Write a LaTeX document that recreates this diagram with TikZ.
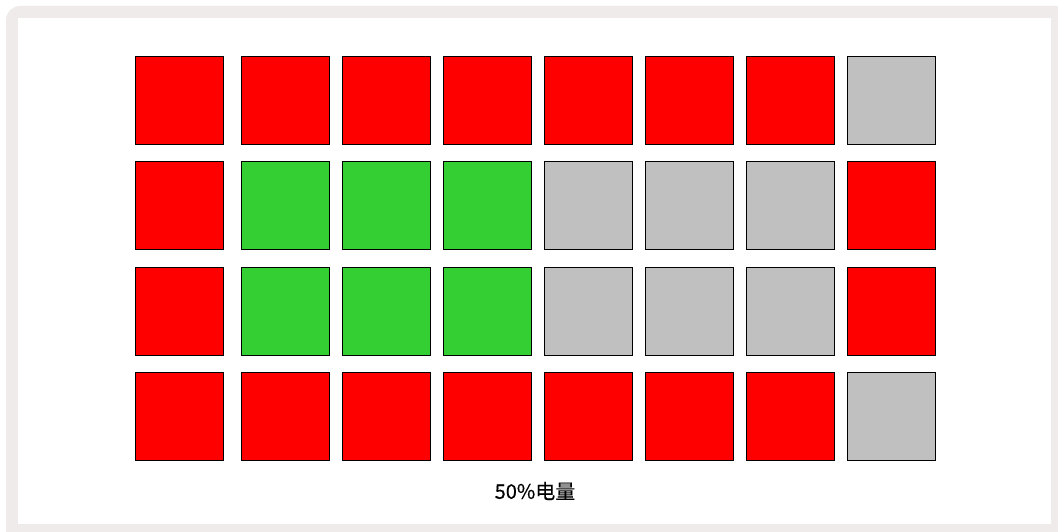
\documentclass[tikz,border=0pt]{standalone}
\usepackage{fontspec}
\newfontfamily\cjk[FakeBold=0.3]{Noto Sans CJK SC}
\definecolor{framegray}{HTML}{EEEBEA}
\definecolor{cellred}{HTML}{FF0000}
\definecolor{cellgreen}{HTML}{33CF33}
\definecolor{cellgray}{HTML}{C0C0C0}
\tikzset{
  cell/.style={draw=black, line width=1pt, minimum width=88pt, minimum height=88pt, inner sep=0pt, anchor=north west, rectangle},
  cR/.style={cell, fill=cellred},
  cG/.style={cell, fill=cellgreen},
  cY/.style={cell, fill=cellgray},
  caption/.style={font=\cjk\fontsize{20pt}{22pt}\selectfont, text=black, inner sep=0pt}
}
\begin{document}
\begin{tikzpicture}[x=1pt,y=-1pt]
\useasboundingbox (0,0) rectangle (1058,532);
\begin{scope}
\clip (0,0) rectangle (1058,532);
\fill[framegray, rounded corners=14pt] (6,6) rectangle (1070,545);
\fill[white] (18,18) rectangle (1051,524);
\end{scope}
\def\xs{{135,241,342,443,544,645,746,847}}
\foreach \c/\s in {1/cR,2/cR,3/cR,4/cR,5/cR,6/cR,7/cR,8/cY}{
  \pgfmathsetmacro\xx{\xs[\c-1]}
  \node[\s] (a\c) at (\xx,56) {};
}
\foreach \c/\s in {1/cR,2/cG,3/cG,4/cG,5/cY,6/cY,7/cY,8/cR}{
  \pgfmathsetmacro\xx{\xs[\c-1]}
  \node[\s] (b\c) at (\xx,161) {};
}
\foreach \c/\s in {1/cR,2/cG,3/cG,4/cG,5/cY,6/cY,7/cY,8/cR}{
  \pgfmathsetmacro\xx{\xs[\c-1]}
  \node[\s] (c\c) at (\xx,267) {};
}
\foreach \c/\s in {1/cR,2/cR,3/cR,4/cR,5/cR,6/cR,7/cR,8/cY}{
  \pgfmathsetmacro\xx{\xs[\c-1]}
  \node[\s] (d\c) at (\xx,372) {};
}
\node[caption] (label) at (535,491) {50\%电量};
\end{tikzpicture}
\end{document}
